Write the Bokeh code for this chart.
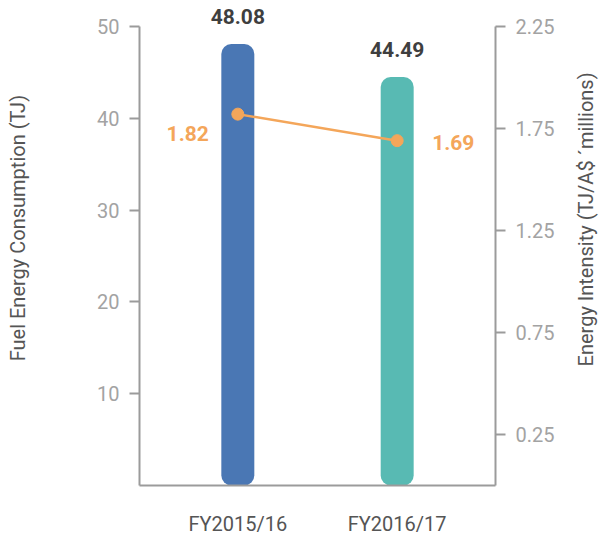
import math
from bokeh.plotting import figure
from bokeh.models import (FactorRange, Range1d, LinearAxis, FixedTicker,
                          ColumnDataSource)
from bokeh.core.properties import value
from bokeh.embed import file_html
from bokeh.resources import INLINE

categories = ["FY2015/16", "FY2016/17"]
consumption = [48.08, 44.49]
intensity = [1.82, 1.69]
bar_colors = ["#4A77B4", "#58BAB3"]
left_ticks = [10, 20, 30, 40, 50]
right_ticks = [0.25, 0.75, 1.25, 1.75, 2.25]
left_title = "Fuel Energy Consumption (TJ)"
right_title = "Energy Intensity (TJ/A$ \u00b4millions)"

FONT = "Roboto"
AXIS_GREY = "#9B9B9B"
TICK_TEXT = "#A3A3A3"
TITLE_TEXT = "#555555"
ORANGE = "#F4A65A"

LEFT_MAX = 50
RIGHT_MAX = 2.25
TOP = 52.82  # frame reaches a little above 50 so the value labels fit

p = figure(width=613, height=538,
           x_range=FactorRange(*categories, range_padding=0.117,
                               range_padding_units="absolute"),
           y_range=Range1d(0, TOP), output_backend="svg", toolbar_location=None,
           min_border_left=139, min_border_right=118, min_border_top=0,
           min_border_bottom=51)
p.extra_y_ranges = {"right": Range1d(0, TOP * RIGHT_MAX / LEFT_MAX)}
p.outline_line_color = None
p.xgrid.grid_line_color = None
p.ygrid.grid_line_color = None

src = ColumnDataSource(dict(cat=categories, cons=consumption, inten=intensity,
                            color=bar_colors,
                            cons_txt=[f"{v:.2f}" for v in consumption]))

p.vbar(x="cat", top="cons", bottom=0, width=0.207, fill_color="color",
       line_color=None, border_radius=10, source=src)

p.text(x="cat", y="cons", text="cons_txt", source=src, text_align="center",
       text_baseline="bottom", y_offset=-20, text_font=value(FONT),
       text_font_style="bold", text_font_size="21px", text_color="#3F3F3F")

p.line(x="cat", y="inten", source=src, y_range_name="right",
       line_color=ORANGE, line_width=2.5)
p.scatter(x="cat", y="inten", source=src, y_range_name="right", size=12,
          fill_color=ORANGE, line_color=ORANGE)

p.text(x=[categories[0]], y=[intensity[0]], text=[f"{intensity[0]:.2f}"],
       y_range_name="right", text_align="right", text_baseline="middle",
       x_offset=-29, y_offset=19, text_font=value(FONT), text_font_style="bold",
       text_font_size="21px", text_color=ORANGE)
p.text(x=[categories[1]], y=[intensity[1]], text=[f"{intensity[1]:.2f}"],
       y_range_name="right", text_align="left", text_baseline="middle",
       x_offset=35, y_offset=2, text_font=value(FONT), text_font_style="bold",
       text_font_size="21px", text_color=ORANGE)


def style_axis(ax):
    ax.axis_line_color = AXIS_GREY
    ax.axis_line_width = 2
    ax.major_tick_line_color = AXIS_GREY
    ax.major_tick_line_width = 2
    ax.major_tick_out = 10
    ax.major_tick_in = 0
    ax.minor_tick_line_color = None
    ax.major_label_standoff = 10
    ax.major_label_text_font = FONT
    ax.major_label_text_font_size = "20px"
    ax.major_label_text_color = TICK_TEXT
    ax.axis_label_text_font = FONT
    ax.axis_label_text_font_size = "20px"
    ax.axis_label_text_font_style = "normal"
    ax.axis_label_text_color = TITLE_TEXT


# left axis
la = p.yaxis[0]
la.bounds = (0, LEFT_MAX)
la.ticker = FixedTicker(ticks=left_ticks)
style_axis(la)
la.axis_label = "\u00a0" * 6 + left_title
la.axis_label_standoff = 64

# right axis (label reads bottom-to-top like the left one)
ra = LinearAxis(y_range_name="right", bounds=(0, RIGHT_MAX),
                ticker=FixedTicker(ticks=right_ticks))
style_axis(ra)
ra.axis_label = "\u00a0" * 24 + right_title
ra.axis_label_orientation = math.pi / 2
ra.axis_label_align = "start"
ra.axis_label_standoff = 29
p.add_layout(ra, "right")

# bottom axis
xa = p.xaxis[0]
xa.axis_line_color = AXIS_GREY
xa.axis_line_width = 2
xa.major_tick_line_color = None
xa.minor_tick_line_color = None
xa.major_tick_out = 0
xa.major_label_standoff = 26
xa.major_label_text_font = FONT
xa.major_label_text_font_size = "20px"
xa.major_label_text_color = TITLE_TEXT

open("out.html", "w").write(file_html(p, INLINE))
